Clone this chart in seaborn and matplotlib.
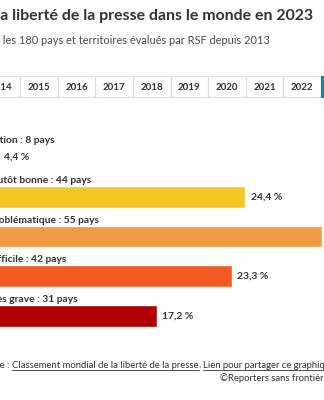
import matplotlib
matplotlib.use("Agg")
import matplotlib.pyplot as plt
from matplotlib.patches import Rectangle
from matplotlib.lines import Line2D
import seaborn as sns
import pandas as pd

# ---- data -------------------------------------------------------------
categories = [
    "Bonne situation",
    "Situation plutôt bonne",
    "Situation problématique",
    "Situation difficile",
    "Situation très grave",
]
country_counts = [8, 44, 55, 42, 31]
shares = [4.4, 24.4, 30.6, 23.3, 17.2]          # % of the 180 countries
bar_colors = ["#f6e7a6", "#f2c624", "#f09a46", "#f15a24", "#b00000"]

years = list(range(2013, 2024))
selected_year = 2023

title = "La liberté de la presse dans le monde en 2023"
subtitle = "Parmi les 180 pays et territoires évalués par RSF depuis 2013"
source_prefix = "Source : "
source_links = ["Classement mondial de la liberté de la presse",
                "Lien pour partager ce graphique"]
credit = "©Reporters sans frontières"

# ---- figure -----------------------------------------------------------
sns.set_theme(style="white")
plt.rcParams["font.family"] = ["Lato", "DejaVu Sans"]

W, H = 324, 400
fig = plt.figure(figsize=(W / 100, H / 100), dpi=100)
fig.patch.set_facecolor("white")
renderer = fig.canvas.get_renderer()


def fx(px):
    return px / W


def fy(py):
    return 1 - py / H


def text_width(s, **kw):
    t = fig.text(0, 0, s, **kw)
    w = t.get_window_extent(renderer).width
    t.remove()
    return w


DARK = "#333333"
LEFT = -55          # left edge of the chart body, in pixels

# title / subtitle
title_kw = dict(fontsize=11.4, fontweight="bold", color=DARK)
fig.text(fx(0.5 - text_width("L", **title_kw)), fy(16), title,
         va="center", ha="left", **title_kw)
sub_kw = dict(fontsize=7.95, color="#4a4a4a")
fig.text(fx(2.5 - text_width("Parmi ", **sub_kw)), fy(40.5), subtitle,
         va="center", ha="left", **sub_kw)

# year tabs
tab_w, tab_top, tab_bot = 37.6, 76, 97
for k, yr in enumerate(years):
    x0 = LEFT + k * tab_w
    sel = yr == selected_year
    fig.add_artist(Rectangle((fx(x0), fy(tab_bot)), tab_w / W, (tab_bot - tab_top) / H,
                             transform=fig.transFigure,
                             facecolor="#1d81a2" if sel else "white",
                             edgecolor="#1d81a2" if sel else "#dddddd", linewidth=0.8))
    fig.text(fx(x0 + tab_w / 2), fy(87), str(yr),
             ha="center", va="center", fontsize=7.0, fontweight="bold",
             color="white" if sel else DARK)

# bars
px_per_pct = 12.31
ax = fig.add_axes([fx(LEFT), fy(336), 32 * px_per_pct / W, 199 / H])
df = pd.DataFrame({"categorie": categories, "part": shares})
sns.barplot(data=df, x="part", y="categorie", hue="categorie", palette=bar_colors,
            orient="h", width=0.55, legend=False, saturation=1, ax=ax)
ax.set_xlim(0, 32)
ax.set_ylim(4.5, -0.5)
ax.axis("off")

lab_kw = dict(fontsize=7.35, fontweight="bold", color=DARK, clip_on=False)
for i, (cat, n, p) in enumerate(zip(categories, country_counts, shares)):
    ax.text(0, i - 0.41, f"{cat} : {n} pays", ha="left", va="center", **lab_kw)
    ax.text(p + 0.42, i, f"{p:.1f} %".replace(".", ","), ha="left", va="center", **lab_kw)

# footer with underlined links
foot_kw = dict(fontsize=6.85, color=DARK)
foot_y = 365
x = 0 - text_width("Sourc", **foot_kw)
pieces = [(source_prefix, False), (source_links[0], True), (", ", False),
          (source_links[1], True)]
for s, link in pieces:
    t = fig.text(fx(x), fy(foot_y), s, ha="left", va="center", **foot_kw)
    w = t.get_window_extent(renderer).width
    if link:
        fig.add_artist(Line2D([fx(x), fx(x + w)], [fy(foot_y + 5), fy(foot_y + 5)],
                              transform=fig.transFigure, color=DARK, linewidth=0.6))
    x += w
fig.text(fx(333), fy(378), credit, ha="right", va="center", **foot_kw)

fig.savefig("out.png", dpi=100, facecolor="white")
